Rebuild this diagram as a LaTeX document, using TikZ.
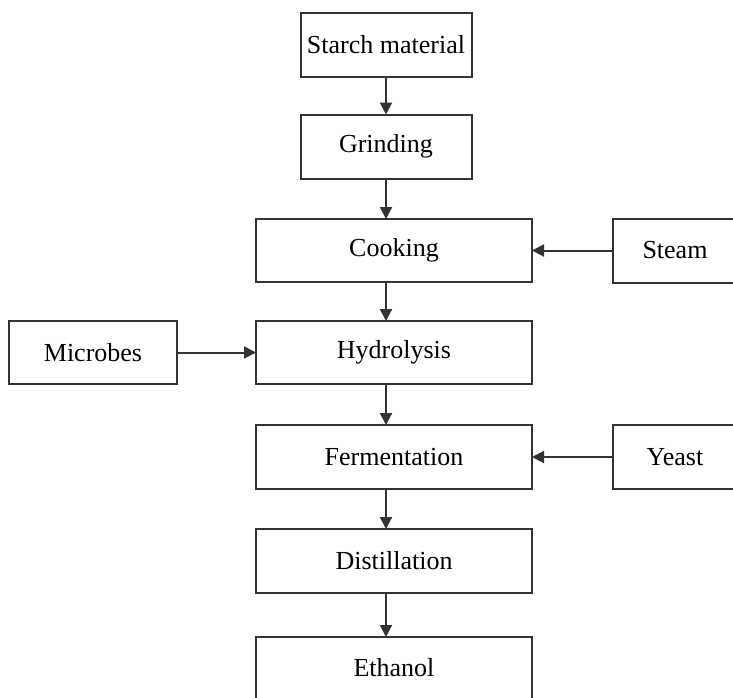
\documentclass[tikz,border=0pt]{standalone}
\usepackage{fontspec}
\setmainfont{Liberation Serif}
\usetikzlibrary{arrows.meta}
\begin{document}
\begin{tikzpicture}[x=1pt,y=-1pt,
  box/.style={draw=black!80, line width=2pt, inner sep=0pt, outer sep=0pt,
    font=\fontsize{26}{30}\selectfont},
  narrow/.style={box, minimum width=171pt, minimum height=64pt},
  wide/.style={box, minimum width=276pt, minimum height=63pt},
  side/.style={box, minimum width=124pt, minimum height=64pt},
  arr/.style={draw=black!80, line width=2pt, -{Triangle[length=12pt,width=12pt]}}]
\useasboundingbox (0,0) rectangle (733,697);
\clip (0,0) rectangle (733,697);
\node[narrow] (starch) at (386,45) {Starch material};
\node[narrow] (grind) at (386,146.5) {Grinding};
\node[wide] (cook) at (394,250.5) {Cooking};
\node[wide] (hydro) at (394,352.5) {Hydrolysis};
\node[wide, minimum height=64pt] (ferm) at (394,457) {Fermentation};
\node[wide, minimum height=64pt] (dist) at (394,561) {Distillation};
\node[wide, minimum height=90pt] (eth) at (394,682) {};
\node[font=\fontsize{26}{30}\selectfont] (ethtxt) at (394,668) {Ethanol};
\node[side] (steam) at (675,250.5) {Steam};
\node[side] (yeast) at (675,457) {Yeast};
\node[box, minimum width=168pt, minimum height=63pt] (micro) at (93,352.5) {Microbes};
\coordinate (ax) at (386,0);
\draw[arr] (starch.south) -- (grind.north);
\draw[arr] (grind.south) -- (grind.south |- cook.north);
\draw[arr] (cook.south -| ax) -- (hydro.north -| ax);
\draw[arr] (hydro.south -| ax) -- (ferm.north -| ax);
\draw[arr] (ferm.south -| ax) -- (dist.north -| ax);
\draw[arr] (dist.south -| ax) -- (eth.north -| ax);
\draw[arr] (steam.west) -- (cook.east);
\draw[arr] (yeast.west) -- (ferm.east);
\draw[arr] (micro.east) -- (hydro.west);
\end{tikzpicture}
\end{document}
